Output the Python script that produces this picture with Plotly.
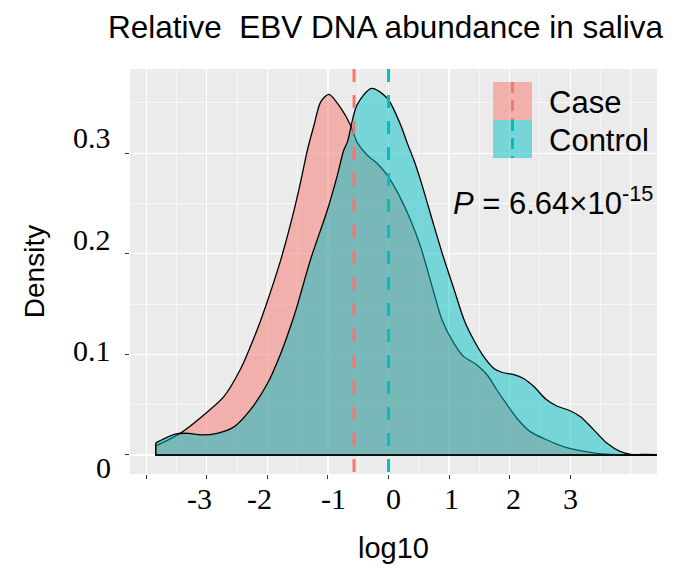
import plotly.graph_objects as go

# ---------------- data ----------------
case_x = [-3.845, -3.43, -2.95, -2.72, -2.44, -2.28, -2.11, -2.0, -1.78, -1.56, -1.45, -1.34,
          -1.23, -1.12, -0.985, -0.79, -0.63, -0.52, -0.35, -0.19, -0.02, 0.14, 0.36, 0.53,
          0.75, 0.886, 1.08, 1.24, 1.46, 1.63, 1.79, 1.96, 2.12, 2.34, 2.62, 2.89, 3.17, 3.44,
          3.77, 4.6]
case_y = [0.009, 0.022, 0.045, 0.058, 0.086, 0.108, 0.134, 0.153, 0.194, 0.2435, 0.272, 0.303,
          0.328, 0.351, 0.3585, 0.345, 0.328, 0.311, 0.298, 0.29, 0.278, 0.262, 0.234, 0.207,
          0.161, 0.134, 0.111, 0.098, 0.0895, 0.0795, 0.0646, 0.0497, 0.0365, 0.0232, 0.0149,
          0.0083, 0.0043, 0.0017, 0.0003, 0.0]

control_x = [-3.845, -3.51, -3.3, -3.1, -2.83, -2.55, -2.28, -2.0, -1.78, -1.62, -1.53, -1.29,
             -1.01, -0.85, -0.74, -0.68, -0.52, -0.28, -0.02, 0.2, 0.31, 0.42, 0.53, 0.75, 0.91,
             1.08, 1.25, 1.41, 1.57, 1.74, 1.88, 2.07, 2.23, 2.40, 2.59, 2.78, 3.0, 3.17, 3.39,
             3.61, 3.83, 4.0, 4.27, 4.6]
control_y = [0.012, 0.021, 0.0215, 0.020, 0.0215, 0.028, 0.045, 0.071, 0.101, 0.1275, 0.144,
             0.194, 0.2435, 0.277, 0.303, 0.311, 0.348, 0.3645, 0.3546, 0.328, 0.31, 0.293,
             0.273, 0.228, 0.196, 0.165, 0.134, 0.114, 0.098, 0.086, 0.082, 0.080, 0.076, 0.068,
             0.056, 0.0487, 0.044, 0.038, 0.025, 0.0116, 0.0033, 0.0007, 0.0005, 0.0]

group_names = ["Case", "Control"]
group_means = [-0.57, 0.0]

x_tick_vals = [-4, -3, -2, -1, 0, 1, 2, 3]
x_tick_text = ["", "-3", "-2", "-1", "0", "1", "2", "3"]
x_label_shift = [0, -7, -8, 6, 5, 2, 4, 0]
x_minor_vals = [-3.5, -2.5, -1.5, -0.5, 0.5, 1.5, 2.5, 3.5]
x_extra_grid = [4]

y_tick_vals = [0, 0.1, 0.2, 0.3]
y_tick_text = ["0", "0.1", "0.2", "0.3"]
y_label_shift = [-13, 4, 14, 16]
y_minor_vals = [0.05, 0.15, 0.25, 0.35]

p_text = "<i>P</i> = 6.64×10<sup>-15</sup>"
title_text = "Relative  EBV DNA abundance in saliva"

# ---------------- style ----------------
line_cols = ["#F8766D", "#00BFC4"]
fill_cols = ["rgba(248,118,109,0.5)", "rgba(0,191,196,0.5)"]
W, H = 676, 571
L, R, T, B = 130, 19, 69, 97
pw, ph = W - L - R, H - T - B
XR = [-4.27, 4.434]
YR = [-0.0189, 0.3837]

def px_x(p):
    return (p - L) / pw

def px_y(p):
    return (H - B - p) / ph

fig = go.Figure()
series = [(case_x, case_y), (control_x, control_y)]
for i, (xs, ys) in enumerate(series):
    fig.add_trace(go.Scatter(x=xs, y=ys, mode="lines", fill="tozeroy",
                             fillcolor=fill_cols[i],
                             line=dict(color="black", width=1.3, shape="spline", smoothing=0.8),
                             name=group_names[i], showlegend=False, hoverinfo="skip"))
    fig.add_trace(go.Scatter(x=[xs[-1], xs[0], xs[0]], y=[0, 0, ys[0]], mode="lines",
                             line=dict(color="black", width=1.3), showlegend=False,
                             hoverinfo="skip"))

for i, m in enumerate(group_means):
    fig.add_shape(type="line", xref="x", yref="paper", x0=m, x1=m, y0=1, y1=0,
                  line=dict(color=line_cols[i], width=3, dash="13px,13px"))

for g in x_extra_grid:
    fig.add_shape(type="line", xref="x", yref="paper", x0=g, x1=g, y0=0, y1=1,
                  layer="below", line=dict(color="white", width=1.2))

# tick labels (serif)
serif = dict(family="Liberation Serif, Times New Roman, serif", size=30, color="black")
for v, t, s in zip(x_tick_vals, x_tick_text, x_label_shift):
    if t:
        fig.add_annotation(x=v, xref="x", y=px_y(498), yref="paper", text=t, showarrow=False,
                           xanchor="center", yanchor="middle", xshift=s, font=serif)
for v, t, s in zip(y_tick_vals, y_tick_text, y_label_shift):
    fig.add_annotation(x=px_x(113), xref="paper", y=v, yref="y", text=t, showarrow=False,
                       xanchor="right", yanchor="middle", yshift=s, font=serif)

sans = "Liberation Sans, Arial, Helvetica, sans-serif"
# title
fig.add_annotation(x=px_x(386), xref="paper", y=px_y(27), yref="paper", text=title_text,
                   showarrow=False, xanchor="center", yanchor="middle",
                   font=dict(family=sans, size=31.5, color="black"))
# P value
fig.add_annotation(x=px_x(451), xref="paper", y=px_y(201), yref="paper", text=p_text,
                   showarrow=False, xanchor="left", yanchor="middle",
                   font=dict(family=sans, size=31, color="black"))

# custom legend
key_x0, key_x1 = 493, 532
key_rows = [(82, 120), (120, 158)]
for i, (ya, yb) in enumerate(key_rows):
    fig.add_shape(type="rect", xref="paper", yref="paper", x0=px_x(key_x0), x1=px_x(key_x1),
                  y0=px_y(yb), y1=px_y(ya), fillcolor=fill_cols[i], line=dict(width=0))
    xm = px_x((key_x0 + key_x1) / 2)
    fig.add_shape(type="line", xref="paper", yref="paper", x0=xm, x1=xm, y0=px_y(ya),
                  y1=px_y(yb), line=dict(color=line_cols[i], width=3, dash="11px,7px"))
    fig.add_annotation(x=px_x(547), xref="paper", y=px_y((ya + yb) / 2 + 1), yref="paper",
                       text=group_names[i], showarrow=False, xanchor="left", yanchor="middle",
                       font=dict(family=sans, size=31, color="black"))

fig.update_layout(
    width=W, height=H,
    margin=dict(l=L, r=R, t=T, b=B, pad=0),
    paper_bgcolor="white", plot_bgcolor="#EBEBEB",
    showlegend=False,
    xaxis=dict(range=XR, tickvals=x_tick_vals, showticklabels=False, ticks="outside",
               ticklen=4, tickwidth=1, tickcolor="#333333", showgrid=True, gridcolor="white",
               gridwidth=1.2, zeroline=False, showline=False,
               minor=dict(tickvals=x_minor_vals, showgrid=True, gridcolor="white",
                          gridwidth=0.6, ticks=""),
               title=dict(text="log10", font=dict(family=sans, size=29, color="black"),
                          standoff=59), automargin=False),
    yaxis=dict(range=YR, tickvals=y_tick_vals, showticklabels=False, ticks="outside",
               ticklen=4, tickwidth=1, tickcolor="#333333", showgrid=True, gridcolor="white",
               gridwidth=1.2, zeroline=False, showline=False,
               minor=dict(tickvals=y_minor_vals, showgrid=True, gridcolor="white",
                          gridwidth=0.6, ticks=""),
               title=dict(text="Density", font=dict(family=sans, size=28, color="black"),
                          standoff=72), automargin=False),
)

fig.write_html("out.html", post_script="document.body.style.margin='0';",
               config={"displayModeBar": False, "staticPlot": True})
